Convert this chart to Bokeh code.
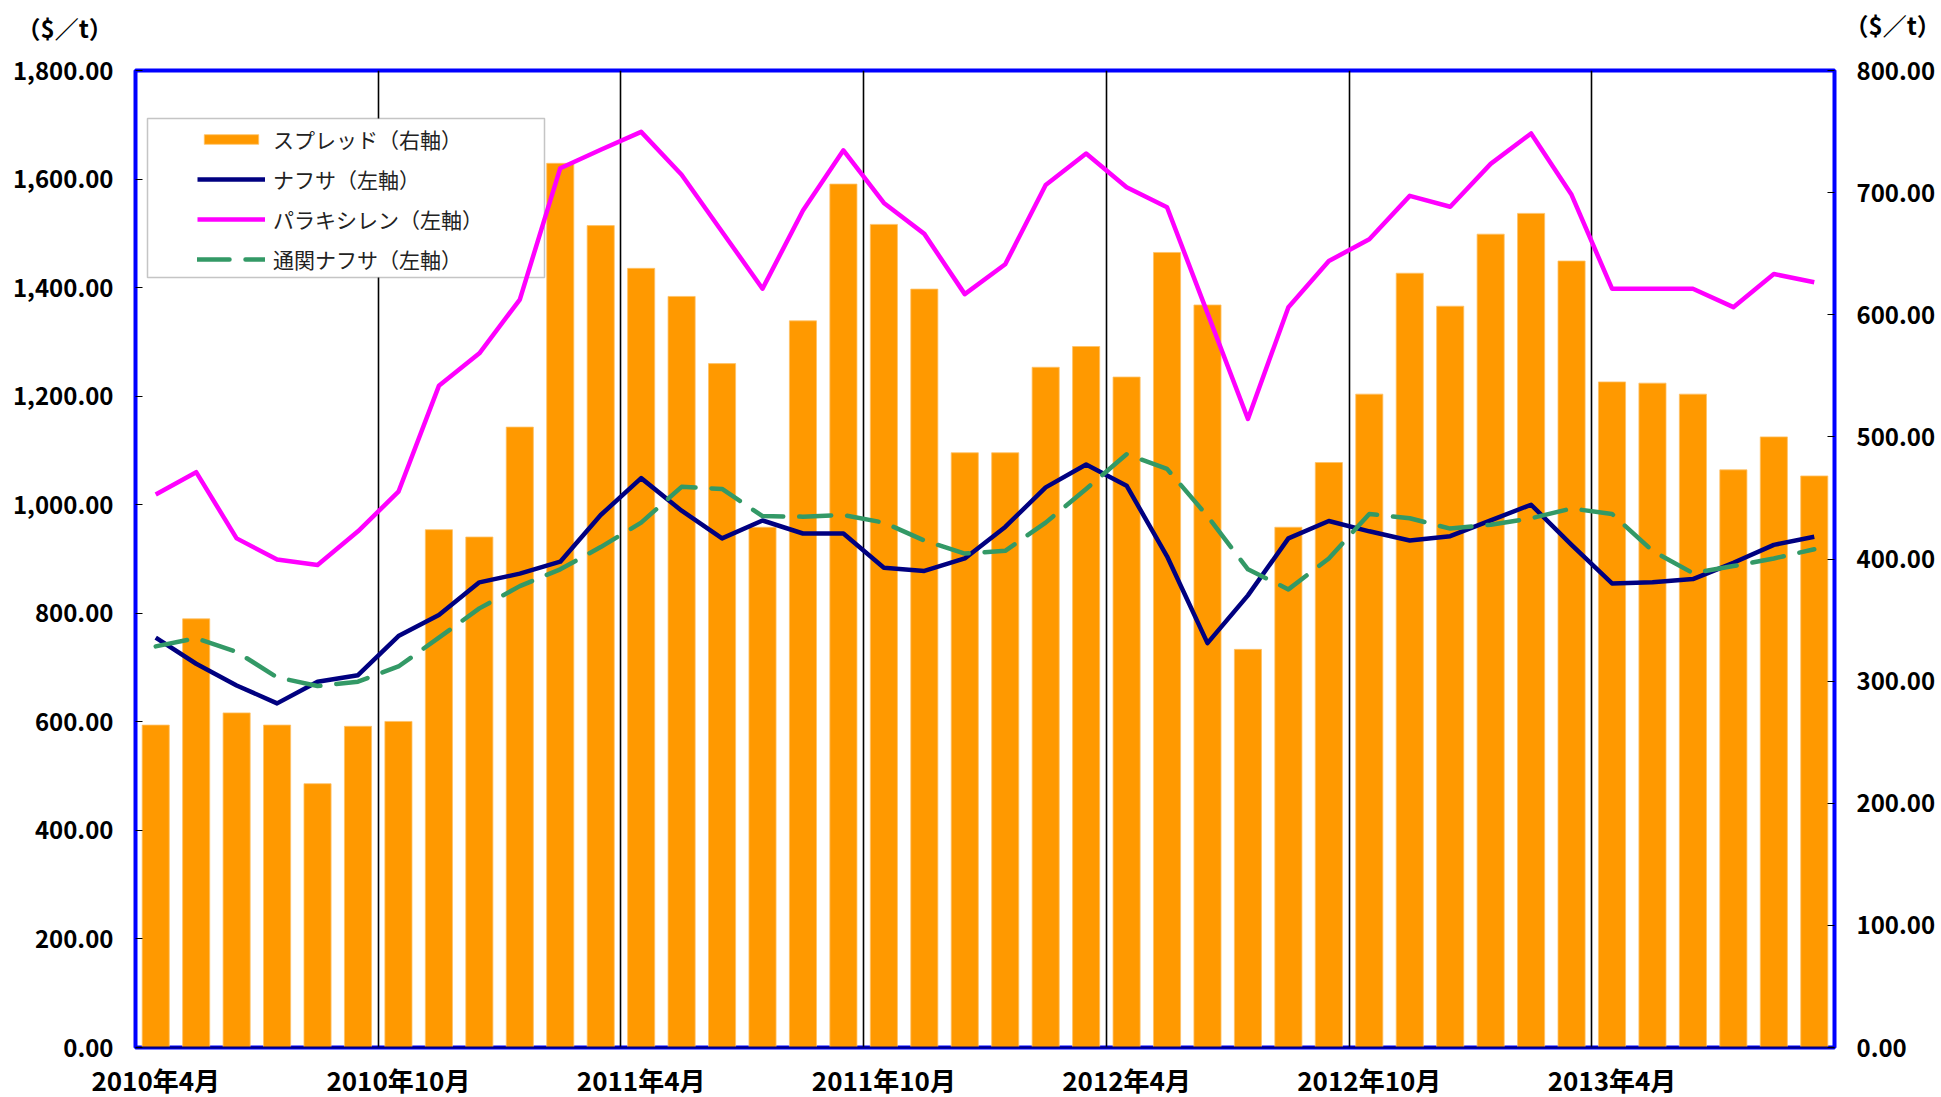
from bokeh.plotting import figure
from bokeh.models import (Range1d, LinearAxis, FixedTicker, NumeralTickFormatter,
                          Legend, LegendItem, BoxAnnotation, Label, ColumnDataSource)
from bokeh.embed import file_html
from bokeh.resources import INLINE

# ---------------- data ----------------
months = [
    "2010年4月", "2010年5月", "2010年6月", "2010年7月", "2010年8月", "2010年9月",
    "2010年10月", "2010年11月", "2010年12月", "2011年1月", "2011年2月", "2011年3月",
    "2011年4月", "2011年5月", "2011年6月", "2011年7月", "2011年8月", "2011年9月",
    "2011年10月", "2011年11月", "2011年12月", "2012年1月", "2012年2月", "2012年3月",
    "2012年4月", "2012年5月", "2012年6月", "2012年7月", "2012年8月", "2012年9月",
    "2012年10月", "2012年11月", "2012年12月", "2013年1月", "2013年2月", "2013年3月",
    "2013年4月", "2013年5月", "2013年6月", "2013年7月", "2013年8月", "2013年9月",
]
# スプレッド (right axis, $/t)
spread = [264, 351, 274, 264, 216, 263, 267, 424, 418, 508, 724, 673,
          638, 615, 560, 426, 595, 707, 674, 621, 487, 487, 557, 574,
          549, 651, 608, 326, 426, 479, 535, 634, 607, 666, 683, 644,
          545, 544, 535, 473, 500, 468]
# ナフサ (left axis)
naphtha = [755, 707, 667, 634, 674, 686, 758, 797, 857, 873, 895, 981,
           1049, 989, 938, 971, 947, 947, 884, 878, 901, 959, 1032, 1074,
           1035, 905, 745, 833, 938, 970, 951, 934, 942, 971, 1000, 926,
           855, 857, 863, 893, 926, 941]
# パラキシレン (left axis)
paraxylene = [1019, 1060, 938, 899, 889, 951, 1024, 1219, 1279, 1378, 1620, 1654,
              1687, 1608, 1503, 1398, 1542, 1653, 1556, 1499, 1388, 1443, 1589, 1647,
              1585, 1548, 1353, 1158, 1364, 1449, 1489, 1569, 1549, 1628, 1684, 1571,
              1398, 1398, 1398, 1364, 1425, 1410]
# 通関ナフサ (left axis)
customs_naphtha = [739, 754, 729, 682, 666, 674, 702, 755, 809, 850, 881, 922,
                   967, 1033, 1029, 979, 978, 981, 967, 934, 910, 915, 967, 1029,
                   1093, 1066, 979, 881, 844, 901, 983, 975, 956, 963, 975, 993,
                   983, 915, 874, 887, 901, 918]

left_ticks = [0, 200, 400, 600, 800, 1000, 1200, 1400, 1600, 1800]
right_ticks = [0, 100, 200, 300, 400, 500, 600, 700, 800]
label_months = ["2010年4月", "2010年10月", "2011年4月", "2011年10月",
                "2012年4月", "2012年10月", "2013年4月"]
unit_label = "（$／t）"
series_names = ["スプレッド（右軸）", "ナフサ（左軸）", "パラキシレン（左軸）", "通関ナフサ（左軸）"]

# ---------------- figure ----------------
FONT = "Noto Sans CJK JP"
FW, FH = 1699, 977
x = list(range(len(months)))
src = ColumnDataSource(dict(x=x, spread=spread, naphtha=naphtha,
                            px=paraxylene, cn=customs_naphtha))

p = figure(frame_width=FW, frame_height=FH, output_backend="svg", toolbar_location=None,
           x_range=Range1d(-0.5, len(months) - 0.5),
           y_range=Range1d(left_ticks[0], left_ticks[-1]),
           min_border_left=135, min_border_right=106, min_border_top=70, min_border_bottom=46)
p.extra_y_ranges = {"right": Range1d(right_ticks[0], right_ticks[-1])}

p.outline_line_color = "#0000FF"
p.outline_line_width = 4
p.outline_line_alpha = 1
p.background_fill_color = "white"
p.border_fill_color = "white"

# unit labels above both axes (each sits in its own slot of the top side panel)
for ux, uy in ((-119, 43), (1709, 11)):
    p.add_layout(Label(x=ux, y=uy, x_units="screen", y_units="screen", text=unit_label,
                       text_font=FONT, text_font_size="24px", text_font_style="bold",
                       text_baseline="middle", text_align="left", text_color="black"),
                 "above")

# vertical separators every 6 months (between categories)
sep_idx = [months.index(m) for m in label_months[1:]]
p.xgrid.ticker = FixedTicker(ticks=[i - 0.5 for i in sep_idx])
p.xgrid.grid_line_color = "black"
p.xgrid.grid_line_width = 1.6
p.xgrid.level = "image"
p.ygrid.grid_line_color = None

# x axis
xa = p.xaxis[0]
tick_idx = [months.index(m) for m in label_months]
xa.ticker = FixedTicker(ticks=tick_idx)
xa.major_label_overrides = {i: months[i] for i in tick_idx}
xa.major_tick_line_color = None
xa.minor_tick_line_color = None
xa.axis_line_color = "#000080"
xa.axis_line_width = 2
xa.major_label_standoff = 7
xa.major_label_text_font = FONT
xa.major_label_text_font_style = "bold"
xa.major_label_text_font_size = "26px"
xa.major_label_text_color = "black"

# left axis
ya = p.yaxis[0]
ya.ticker = FixedTicker(ticks=left_ticks)
ya.formatter = NumeralTickFormatter(format="0,0.00")

ra = LinearAxis(y_range_name="right", ticker=FixedTicker(ticks=right_ticks),
                formatter=NumeralTickFormatter(format="0.00"))
p.add_layout(ra, "right")

for ax in (ya, ra):
    ax.axis_line_color = None
    ax.major_tick_in = 7
    ax.major_tick_out = 0
    ax.major_tick_line_color = "black"
    ax.major_tick_line_width = 1.2
    ax.minor_tick_line_color = None
    ax.major_label_text_font = FONT
    ax.major_label_text_font_style = "bold"
    ax.major_label_text_font_size = "24px"
    ax.major_label_text_color = "black"
    ax.major_label_standoff = 22

# legend frame (drawn under the data)
box = BoxAnnotation(left=12, right=409, bottom=770, top=929,
                    left_units="screen", right_units="screen",
                    top_units="screen", bottom_units="screen",
                    fill_color="white", fill_alpha=1,
                    line_color="#404040", line_width=1.5, level="underlay")
p.add_layout(box)

# data
bars = p.vbar(x="x", top="spread", width=0.67, source=src, y_range_name="right",
              fill_color="#FF9900", line_color="#FFC266", line_width=0.8)
l_n = p.line("x", "naphtha", source=src, line_color="#000080", line_width=4.5, line_join="round")
l_p = p.line("x", "px", source=src, line_color="#FF00FF", line_width=4.5, line_join="round")
l_c = p.line("x", "cn", source=src, line_color="#339966", line_width=4.5,
             line_dash="32 16", line_cap="round", line_join="round")

legend = Legend(items=[LegendItem(label=series_names[0], renderers=[bars]),
                       LegendItem(label=series_names[1], renderers=[l_n]),
                       LegendItem(label=series_names[2], renderers=[l_p]),
                       LegendItem(label=series_names[3], renderers=[l_c])],
                location=(62, 768), padding=0, spacing=0, margin=0,
                glyph_width=68, glyph_height=12, label_height=40, label_standoff=8,
                label_text_font=FONT, label_text_font_size="21px",
                label_text_color="#222222",
                border_line_alpha=0, background_fill_alpha=0)
p.add_layout(legend)

open("out.html", "w").write(file_html(p, INLINE))
